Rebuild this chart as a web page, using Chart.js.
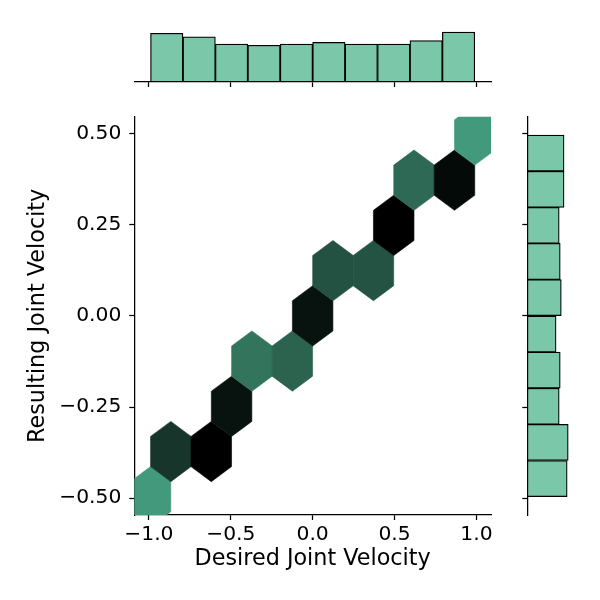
<!DOCTYPE html>
<html>
<head>
<meta charset="utf-8">
<script src="https://cdn.jsdelivr.net/npm/chart.js@4.4.1/dist/chart.umd.min.js"></script>
<style>
  html, body { margin: 0; padding: 0; background: #fff; }
  #wrap { position: relative; width: 600px; height: 600px; }
  #wrap canvas { position: absolute; left: 0; top: 0; }
</style>
</head>
<body>
<div id="wrap">
  <canvas id="topHist" width="600" height="600"></canvas>
  <canvas id="rightHist" width="600" height="600"></canvas>
  <canvas id="joint" width="600" height="600"></canvas>
</div>
<script>
// Joint plot: hexbin of desired vs resulting joint velocity, with marginal histograms

// hexbin cells (centre x, centre y, count)
const hexX = [-0.990, -0.866, -0.619, -0.495, -0.371, -0.124, 0.000, 0.124, 0.371, 0.495, 0.619, 0.866, 0.990];
const hexY = [-0.496, -0.372, -0.372, -0.248, -0.124, -0.124, 0.000, 0.124, 0.124, 0.248, 0.372, 0.372, 0.496];
const hexCount = [25, 84, 115, 104, 47, 57, 104, 67, 66, 115, 53, 109, 25];

// marginal histogram of desired velocity (top)
const xBinCenters = [-0.891, -0.693, -0.495, -0.297, -0.099, 0.099, 0.297, 0.495, 0.693, 0.891];
const xBinCounts = [118, 109, 92, 89, 92, 96, 92, 92, 100, 121];

// marginal histogram of resulting velocity (right), bottom to top
const yBinCenters = [-0.446, -0.347, -0.248, -0.149, -0.050, 0.050, 0.149, 0.248, 0.347, 0.446];
const yBinCounts = [115, 118, 92, 95, 83, 98, 95, 92, 106, 106];

// tick labels
const xTicks = [-1.0, -0.5, 0.0, 0.5, 1.0];
const yTicks = [-0.50, -0.25, 0.00, 0.25, 0.50];

// hex grid size in data units
const HEX_W = 0.2475;
const HEX_H = 0.248;

const X_RANGE = [-1.089, 1.089];
const Y_RANGE = [-0.546, 0.546];

// where the axes sit on the page
const MAIN = { left: 134.3, right: 491, top: 116.7, bottom: 515 };
const TOP_AXIS = { top: 29.5, bottom: 82 };
const RIGHT_AXIS = { left: 527.3, right: 570.3 };

const FONT = "'DejaVu Sans', 'Liberation Sans', sans-serif";
const BAR_FILL = "#7bc7aa";
Chart.defaults.color = "#000";
Chart.defaults.font.family = FONT;
Chart.defaults.animation = false;

function fmt(v, digits) {
  const s = Math.abs(v).toFixed(digits);
  return v < -1e-9 ? "\u2212" + s : s;
}

// low count -> green, high count -> black
function hexColor(count) {
  const lo = Math.min(...hexCount);
  const hi = Math.max(...hexCount);
  const t = (count - lo) / (hi - lo);
  const base = [67, 153, 123];
  const c = base.map((v) => Math.round(v * (1 - t)));
  return `rgb(${c[0]}, ${c[1]}, ${c[2]})`;
}

const spine = {
  grid: {
    display: true,
    drawOnChartArea: false,
    drawTicks: true,
    tickLength: 5,
    tickWidth: 1.25,
    color: "#000",
  },
  border: { display: true, color: "#000", width: 1.25 },
};

// draws each hexagon through the chart scales
const hexPlugin = {
  id: "hexbins",
  beforeDatasetsDraw(chart) {
    const { ctx, chartArea, scales } = chart;
    const corners = [[0.5, -0.5], [0.5, 0.5], [0, 1], [-0.5, 0.5], [-0.5, -0.5], [0, -1]];
    ctx.save();
    ctx.beginPath();
    ctx.rect(chartArea.left, chartArea.top, chartArea.width, chartArea.height);
    ctx.clip();
    chart.data.datasets[0].data.forEach((p) => {
      ctx.beginPath();
      corners.forEach(([cx, cy], i) => {
        const px = scales.x.getPixelForValue(p.x + cx * HEX_W);
        const py = scales.y.getPixelForValue(p.y + cy * HEX_H / 3);
        if (i === 0) ctx.moveTo(px, py);
        else ctx.lineTo(px, py);
      });
      ctx.closePath();
      const col = hexColor(p.count);
      ctx.fillStyle = col;
      ctx.strokeStyle = col;
      ctx.lineWidth = 0.6;
      ctx.fill();
      ctx.stroke();
    });
    ctx.restore();
  },
};

// main hexbin panel
new Chart(document.getElementById("joint"), {
  type: "scatter",
  data: {
    datasets: [
      {
        data: hexX.map((x, i) => ({ x: x, y: hexY[i], count: hexCount[i] })),
        pointRadius: 0,
        pointHoverRadius: 0,
      },
    ],
  },
  plugins: [hexPlugin],
  options: {
    responsive: false,
    events: [],
    layout: { padding: { left: 0, top: MAIN.top, right: 600 - MAIN.right, bottom: 0 } },
    plugins: { legend: { display: false }, tooltip: { enabled: false } },
    scales: {
      x: {
        type: "linear",
        min: X_RANGE[0],
        max: X_RANGE[1],
        ...spine,
        afterBuildTicks: (s) => { s.ticks = xTicks.map((v) => ({ value: v })); },
        afterFit: (s) => { s.height = 600 - MAIN.bottom; },
        ticks: { padding: 3, font: { size: 20.3 }, callback: (v) => fmt(v, 1) },
        title: {
          display: true,
          text: "Desired Joint Velocity",
          font: { size: 22.3 },
          padding: { top: 0, bottom: 27 },
        },
      },
      y: {
        type: "linear",
        min: Y_RANGE[0],
        max: Y_RANGE[1],
        ...spine,
        afterBuildTicks: (s) => { s.ticks = yTicks.map((v) => ({ value: v })); },
        afterFit: (s) => { s.width = MAIN.left; },
        ticks: { padding: 8, font: { size: 20.3 }, callback: (v) => fmt(v, 2) },
        title: {
          display: true,
          text: "Resulting Joint Velocity",
          font: { size: 22.3 },
          padding: { top: 25, bottom: 0 },
        },
      },
    },
  },
});

// top marginal histogram
new Chart(document.getElementById("topHist"), {
  type: "bar",
  data: {
    datasets: [
      {
        data: xBinCenters.map((x, i) => ({ x: x, y: xBinCounts[i] })),
        backgroundColor: BAR_FILL,
        borderColor: "#000",
        borderWidth: 1.25,
        borderSkipped: false,
        barPercentage: 1,
        categoryPercentage: 1,
      },
    ],
  },
  options: {
    responsive: false,
    events: [],
    layout: { padding: { left: MAIN.left, top: TOP_AXIS.top, right: 600 - MAIN.right, bottom: 0 } },
    plugins: { legend: { display: false }, tooltip: { enabled: false } },
    scales: {
      x: {
        type: "linear",
        offset: false,
        min: X_RANGE[0],
        max: X_RANGE[1],
        ...spine,
        grid: { ...spine.grid, offset: false },
        afterBuildTicks: (s) => { s.ticks = xTicks.map((v) => ({ value: v })); },
        afterFit: (s) => { s.height = 600 - TOP_AXIS.bottom; },
        ticks: { display: false },
      },
      y: { display: false, min: 0, max: 127 },
    },
  },
});

// right marginal histogram
new Chart(document.getElementById("rightHist"), {
  type: "bar",
  data: {
    datasets: [
      {
        data: yBinCenters.map((y, i) => ({ x: yBinCounts[i], y: y })),
        backgroundColor: BAR_FILL,
        borderColor: "#000",
        borderWidth: 1.25,
        borderSkipped: false,
        barPercentage: 1,
        categoryPercentage: 1,
      },
    ],
  },
  options: {
    indexAxis: "y",
    responsive: false,
    events: [],
    layout: { padding: { left: 0, top: MAIN.top, right: 600 - RIGHT_AXIS.right, bottom: 600 - MAIN.bottom } },
    plugins: { legend: { display: false }, tooltip: { enabled: false } },
    scales: {
      y: {
        type: "linear",
        offset: false,
        min: Y_RANGE[0],
        max: Y_RANGE[1],
        ...spine,
        grid: { ...spine.grid, offset: false },
        afterBuildTicks: (s) => { s.ticks = yTicks.map((v) => ({ value: v })); },
        afterFit: (s) => { s.width = RIGHT_AXIS.left; },
        ticks: { display: false },
      },
      x: { display: false, min: 0, max: 124 },
    },
  },
});
</script>
</body>
</html>
